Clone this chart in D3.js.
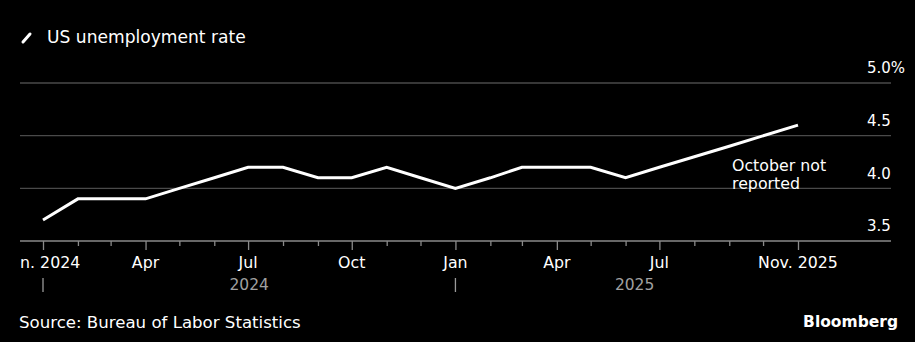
<!DOCTYPE html>
<html><head><meta charset="utf-8">
<script src="https://cdn.jsdelivr.net/npm/d3@7"></script>
<style>
html,body{margin:0;padding:0;background:#000;}
svg{display:block;}
text{font-family:"DejaVu Sans",sans-serif;}
</style></head>
<body>
<svg id="c" width="915" height="342"></svg>
<script>
const months = ["2024-01","2024-02","2024-03","2024-04","2024-05","2024-06","2024-07","2024-08","2024-09","2024-10","2024-11","2024-12",
"2025-01","2025-02","2025-03","2025-04","2025-05","2025-06","2025-07","2025-08","2025-09","2025-10","2025-11"];
const rates = [3.7,3.9,3.9,3.9,4.0,4.1,4.2,4.2,4.1,4.1,4.2,4.1,
4.0,4.1,4.2,4.2,4.2,4.1,4.2,4.3,4.4,null,4.6];
const yTicks = [3.5,4.0,4.5,5.0];
const yTickLabels = ["3.5","4.0","4.5","5.0%"];
const xLabelMonths = ["2024-01","2024-04","2024-07","2024-10","2025-01","2025-04","2025-07","2025-11"];
const xLabels = ["Jan. 2024","Apr","Jul","Oct","Jan","Apr","Jul","Nov. 2025"];
const years = ["2024","2025"];
const title = "US unemployment rate";
const note = ["October not","reported"];
const source = "Source: Bureau of Labor Statistics";

const parse = d3.timeParse("%Y-%m");
const data = months.map((m,i)=>({date:parse(m), v:rates[i]}));
const svg = d3.select("#c");
svg.append("rect").attr("width",915).attr("height",342).attr("fill","#000");
svg.append("defs").append("clipPath").attr("id","lclip")
  .append("rect").attr("x",20).attr("y",0).attr("width",895).attr("height",342);

const x = d3.scaleTime().domain([parse("2024-01"),parse("2025-11")]).range([43,798]);
const y = d3.scaleLinear().domain([3.5,5.0]).range([241,83]);
const gridL = 20, gridR = 891;

// gridlines
svg.append("g").selectAll("line").data(yTicks.filter(t=>t>3.5)).join("line")
  .attr("x1",gridL).attr("x2",gridR).attr("y1",d=>y(d)).attr("y2",d=>y(d))
  .attr("stroke","#4a4a4a").attr("stroke-width",1.3);
// y labels
svg.append("g").selectAll("text").data(yTicks).join("text")
  .attr("x",867).attr("y",d=>y(d)-15).attr("dy","0.35em")
  .attr("fill","#fff").attr("font-size",15).text((d,i)=>yTickLabels[i]);

// x axis
const allMonths = d3.timeMonth.range(parse("2024-01"), d3.timeMonth.offset(parse("2025-11"),1));
const majorSet = new Set(xLabelMonths);
const fmt = d3.timeFormat("%Y-%m");
const xAxis = d3.axisBottom(x).tickValues(allMonths)
  .tickSize(0).tickFormat("");
const gx = svg.append("g").attr("transform","translate(0,241)").call(xAxis);
gx.select(".domain").remove();
svg.append("line").attr("x1",gridL).attr("x2",gridR).attr("y1",241).attr("y2",241)
  .attr("stroke","#8a8a8a").attr("stroke-width",1.3);
gx.selectAll(".tick line").attr("stroke","#8a8a8a").attr("stroke-width",1.3)
  .attr("y2",d=>majorSet.has(fmt(d))?9:5);
svg.append("g").attr("clip-path","url(#lclip)").selectAll("text").data(xLabelMonths).join("text")
  .attr("x",d=>x(parse(d))).attr("y",262).attr("dy","0.35em").attr("text-anchor","middle")
  .attr("fill","#fff").attr("font-size",15.8).text((d,i)=>xLabels[i]);

// year labels
const yearStarts = [parse("2024-01"),parse("2025-01")];
const yearCenters = [ (x(parse("2024-01"))+x(parse("2025-01")))/2, (x(parse("2025-01"))+x(new Date(2025,10,15)))/2 ];
svg.append("g").selectAll("line").data(yearStarts).join("line")
  .attr("x1",d=>x(d)).attr("x2",d=>x(d)).attr("y1",278).attr("y2",292)
  .attr("stroke","#9a9a9a").attr("stroke-width",1.3);
svg.append("g").selectAll("text").data(years).join("text")
  .attr("x",(d,i)=>yearCenters[i]).attr("y",285).attr("dy","0.35em").attr("text-anchor","middle")
  .attr("fill","#a0a0a0").attr("font-size",15.5).text(d=>d);

// line
const line = d3.line().x(d=>x(d.date)).y(d=>y(d.v));
svg.append("path").datum(data.filter(d=>d.v!=null)).attr("d",line)
  .attr("fill","none").attr("stroke","#fff").attr("stroke-width",3).attr("stroke-linejoin","miter");

// annotation
svg.append("text").attr("x",732).attr("y",165).attr("dy","0.35em").attr("fill","#fff").attr("font-size",15.8).text(note[0]);
svg.append("text").attr("x",732).attr("y",183).attr("dy","0.35em").attr("fill","#fff").attr("font-size",15.8).text(note[1]);

// title
svg.append("line").attr("x1",23).attr("y1",42).attr("x2",30).attr("y2",34)
  .attr("stroke","#fff").attr("stroke-width",3).attr("stroke-linecap","round");
svg.append("text").attr("x",47).attr("y",37).attr("dy","0.35em").attr("fill","#fff").attr("font-size",17.1).text(title);

// footer
svg.append("text").attr("x",19).attr("y",322).attr("dy","0.35em").attr("fill","#fff")
  .attr("font-family","DejaVu Sans Condensed").attr("font-size",16.6).text(source);
svg.append("text").attr("x",898).attr("y",322).attr("dy","0.35em").attr("text-anchor","end").attr("fill","#fff")
  .attr("font-weight","bold").attr("font-size",15.5).text("Bloomberg");
</script>
</body></html>
